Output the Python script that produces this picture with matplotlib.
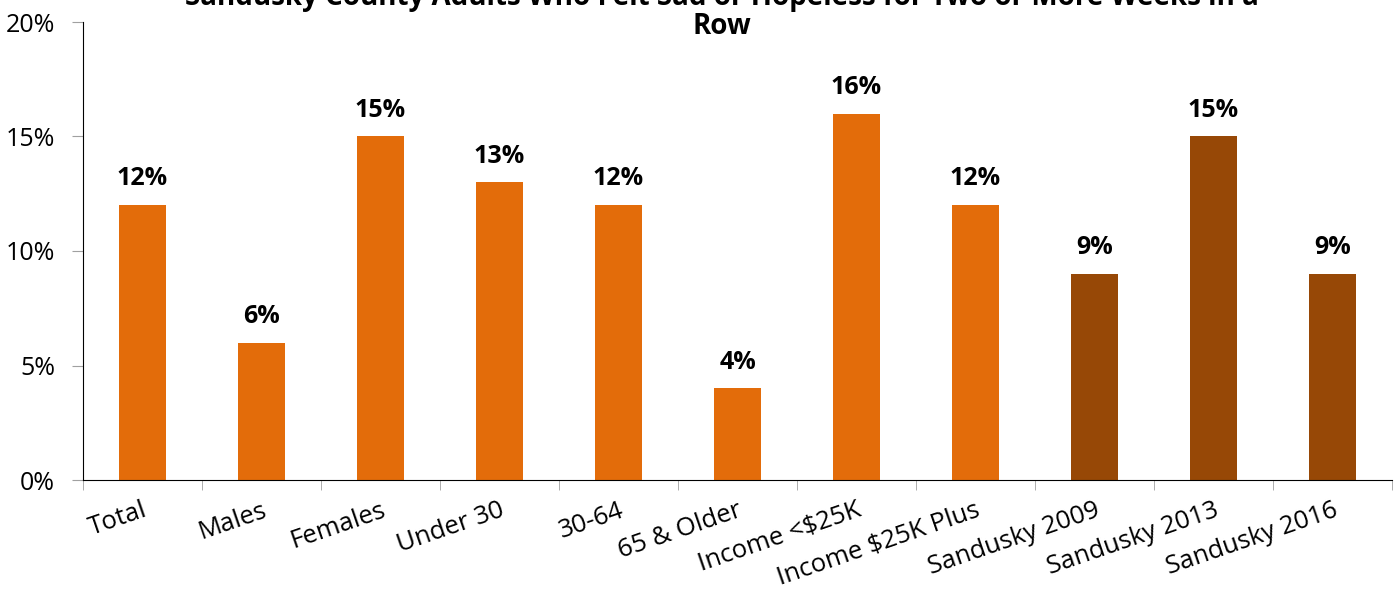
import numpy as np
import matplotlib
matplotlib.use('Agg')
import matplotlib.pyplot as plt
from matplotlib.ticker import FuncFormatter

categories = ['Total', 'Males', 'Females', 'Under 30', '30-64', '65 & Older',
              'Income <$25K', 'Income $25K Plus', 'Sandusky 2009',
              'Sandusky 2013', 'Sandusky 2016']
values = [12, 6, 15, 13, 12, 4, 16, 12, 9, 15, 9]
bar_colors = ['#E36C0A'] * 8 + ['#974806'] * 3
title_line1 = 'Sandusky County Adults Who Felt Sad or Hopeless for Two or More Weeks in a'
title_line2 = 'Row'

plt.rcParams['font.family'] = ['Open Sans', 'DejaVu Sans']

fig = plt.figure(figsize=(13.98, 5.92), dpi=100)
ax = fig.add_axes([83 / 1398, 1 - 480 / 592, (1392 - 83) / 1398, (480 - 22) / 592])

x = np.arange(len(categories))
ax.bar(x, values, width=0.4, color=bar_colors)

for xi, v in zip(x, values):
    ax.text(xi, v + 0.6, f'{v}%', ha='center', va='bottom',
            fontsize=18, fontweight='bold')

ax.set_xlim(-0.5, len(categories) - 0.5)
ax.set_ylim(0, 20)
ax.set_yticks([0, 5, 10, 15, 20])
ax.yaxis.set_major_formatter(FuncFormatter(lambda v, p: f'{v:.0f}%'))
ax.tick_params(axis='y', labelsize=18, length=8, color='#A0A0A0', pad=12)

ax.set_xticks(x)
ax.set_xticklabels(categories, rotation=19, ha='right', rotation_mode='anchor',
                   fontsize=18.5)
ax.tick_params(axis='x', which='major', length=0, pad=13)
ax.set_xticks(np.arange(-0.5, len(categories), 1), minor=True)
ax.tick_params(axis='x', which='minor', length=7, color='#A0A0A0')

for s in ['top', 'right']:
    ax.spines[s].set_visible(False)
ax.spines['left'].set_color('black')
ax.spines['bottom'].set_color('black')

# first title line is clipped by the top edge, as in the original
fig.text(722 / 1398, 1 - 5 / 592, title_line1, ha='center', va='baseline',
         fontsize=20, fontweight='bold')
fig.text(722 / 1398, 1 - 34 / 592, title_line2, ha='center', va='baseline',
         fontsize=20, fontweight='bold')

fig.savefig('out.png', dpi=100)
